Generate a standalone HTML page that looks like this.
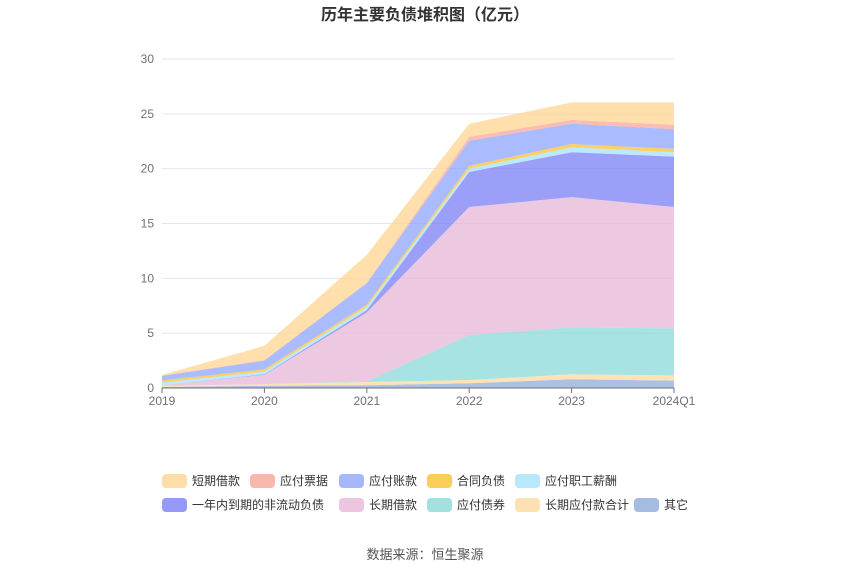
<!DOCTYPE html>
<html><head><meta charset="utf-8"><style>
body{margin:0;background:#fff;font-family:"Liberation Sans","Noto Sans CJK SC",sans-serif;}
#wrap{position:relative;width:850px;height:575px;}
</style></head><body>
<div id="wrap">
<svg id="chart" width="850" height="575" xmlns="http://www.w3.org/2000/svg">
<text x="425" y="20" text-anchor="middle" font-size="16" font-weight="bold" fill="#333">历年主要负债堆积图（亿元）</text>
<g id="grid"></g><g id="areas"></g><g id="axes"></g><g id="legend"></g>
<text x="425" y="559" text-anchor="middle" font-size="13" fill="#555">数据来源：恒生聚源</text>
</svg>
</div>
<script>
const categories = ["2019","2020","2021","2022","2023","2024Q1"];
const yTicks = [0,5,10,15,20,25,30];
const seriesNames = ["其它","长期应付款合计","应付债券","长期借款","一年内到期的非流动负债","应付职工薪酬","合同负债","应付账款","应付票据","短期借款"];
const qita = [0.1,0.2,0.25,0.43,0.8,0.67];
const changqiYingfu = [0.1,0.15,0.3,0.3,0.45,0.48];
const yingfuZhaiquan = [0,0,0.05,4.1,4.28,4.29];
const changqiJiekuan = [0.05,0.85,6.3,11.67,11.87,11.06];
const yinianNei = [0,0.05,0.2,3.2,4.1,4.6];
const zhigongXinchou = [0.25,0.25,0.3,0.3,0.45,0.4];
const hetongFuzhai = [0.2,0.2,0.2,0.25,0.3,0.3];
const yingfuZhangkuan = [0.4,0.8,1.95,2.3,1.85,1.8];
const yingfuPiaoju = [0.03,0.05,0.05,0.35,0.35,0.4];
const duanqiJiekuan = [0.07,1.3,2.55,1.2,1.6,2.05];
const seriesData = [qita,changqiYingfu,yingfuZhaiquan,changqiJiekuan,yinianNei,zhigongXinchou,hetongFuzhai,yingfuZhangkuan,yingfuPiaoju,duanqiJiekuan];
const colors = ["#8fabd9","#ffd89c","#8adad8","#e7b6d7","#7b7ff5","#a6e2fb","#fbc02d","#8ea6ff","#f9a59a","#ffd591"];
const slugs = ["other","long-term-payables","bonds-payable","long-term-loans","current-noncurrent-liabilities","employee-payables","contract-liabilities","accounts-payable","notes-payable","short-term-loans"];
const X0=162,X1=674,Y0=388,Y1=59,YMAX=30;
const ns="http://www.w3.org/2000/svg";
function x(i){return X0+(X1-X0)*i/(categories.length-1);}
function y(v){return Y0-(Y0-Y1)*v/YMAX;}
function mk(t,a,p){const e=document.createElementNS(ns,t);for(const k in a)e.setAttribute(k,a[k]);p.appendChild(e);return e;}
const grid=document.getElementById('grid'),areas=document.getElementById('areas'),axes=document.getElementById('axes'),legend=document.getElementById('legend');
yTicks.forEach(t=>{
 if(t>0){const l=mk('line',{x1:X0,x2:X1,y1:y(t),y2:y(t),stroke:'#e0e6f1'},grid);
 
 }
 const tx=mk('text',{x:X0-8,y:y(t)+4,'text-anchor':'end','font-size':12,fill:'#6e7079'},axes);
 tx.textContent=t;
 
 
});
let base=categories.map(()=>0);
seriesData.forEach((s,k)=>{
 const top=base.map((b,i)=>b+s[i]);
 let d='M'+top.map((v,i)=>x(i)+','+y(v)).join('L');
 for(let i=categories.length-1;i>=0;i--)d+='L'+x(i)+','+y(base[i]);
 const p=mk('path',{d:d+'Z',fill:colors[k],'fill-opacity':0.75},areas);
 
 
 base=top;
});
const ax=mk('line',{x1:X0,x2:X1,y1:Y0,y2:Y0,stroke:'#6e7079'},axes);


categories.forEach((c,i)=>{
 mk('line',{x1:x(i),x2:x(i),y1:Y0,y2:Y0+5,stroke:'#6e7079'},axes);
 const tx=mk('text',{x:x(i),y:Y0+17,'text-anchor':'middle','font-size':12,fill:'#6e7079'},axes);
 tx.textContent=c;
 
 
});
const order=[9,8,7,6,5,4,3,2,1,0];
const pos=[[162,481],[250,481],[339,481],[427,481],[515,481],[162,505],[339,505],[427,505],[515,505],[634,505]];
order.forEach((k,j)=>{
 const g=mk('g',{},legend);
 
 
 const [lx,ly]=pos[j];
 mk('rect',{x:lx,y:ly-7,width:25,height:14,rx:4,fill:colors[k],'fill-opacity':0.8},g);
 const t=mk('text',{x:lx+30,y:ly+4,'font-size':12,fill:'#333'},g);
 t.textContent=seriesNames[k];
});
</script>
</body></html>
